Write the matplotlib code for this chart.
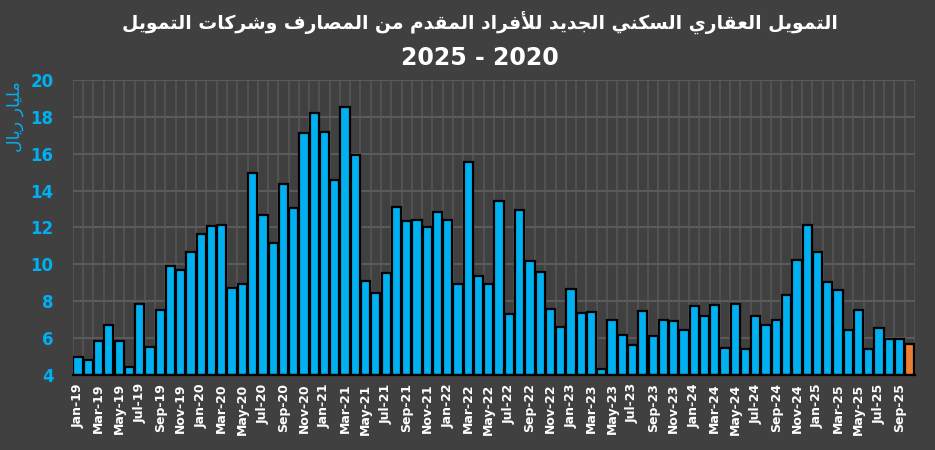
import matplotlib
matplotlib.use("Agg")
import matplotlib.pyplot as plt
import numpy as np

# monthly values, Jan-19 .. Oct-25 (billion riyals)
months = ["Jan", "Feb", "Mar", "Apr", "May", "Jun",
          "Jul", "Aug", "Sep", "Oct", "Nov", "Dec"]
labels = [f"{m}-{y}" for y in range(19, 26) for m in months][:82]

values = [
    5.0, 4.8, 5.85, 6.7, 5.85, 4.45, 7.85, 5.5, 7.5, 9.9, 9.7, 10.65,       # 2019
    11.65, 12.1, 12.15, 8.7, 8.95, 14.95, 12.7, 11.15, 14.35, 13.05, 17.15, 18.2,  # 2020
    17.2, 14.55, 18.55, 15.95, 9.1, 8.45, 9.55, 13.1, 12.35, 12.4, 12.05, 12.85,   # 2021
    12.4, 8.95, 15.55, 9.35, 8.95, 13.45, 7.3, 12.95, 10.2, 9.6, 7.6, 6.6,         # 2022
    8.65, 7.35, 7.4, 4.3, 7.0, 6.15, 5.6, 7.45, 6.1, 7.0, 6.95, 6.45,              # 2023
    7.75, 7.2, 7.8, 5.45, 7.85, 5.4, 7.2, 6.7, 7.0, 8.35, 10.25, 12.15,            # 2024
    10.65, 9.05, 8.6, 6.45, 7.55, 5.4, 6.55, 5.95, 5.95, 5.7,                      # 2025
]

title_ar = "التمويل العقاري السكني الجديد للأفراد المقدم من المصارف وشركات التمويل"
years_txt = "2025 - 2020"
ylabel_ar = "مليار ريال"

# minimal arabic shaping (iso, final, initial, medial)
FORMS = {
    "ا": ("\uFE8D", "\uFE8E", None, None),
    "أ": ("\uFE83", "\uFE84", None, None),
    "ت": ("\uFE95", "\uFE96", "\uFE97", "\uFE98"),
    "ج": ("\uFE9D", "\uFE9E", "\uFE9F", "\uFEA0"),
    "د": ("\uFEA9", "\uFEAA", None, None),
    "ر": ("\uFEAD", "\uFEAE", None, None),
    "س": ("\uFEB1", "\uFEB2", "\uFEB3", "\uFEB4"),
    "ش": ("\uFEB5", "\uFEB6", "\uFEB7", "\uFEB8"),
    "ص": ("\uFEB9", "\uFEBA", "\uFEBB", "\uFEBC"),
    "ع": ("\uFEC9", "\uFECA", "\uFECB", "\uFECC"),
    "ف": ("\uFED1", "\uFED2", "\uFED3", "\uFED4"),
    "ق": ("\uFED5", "\uFED6", "\uFED7", "\uFED8"),
    "ك": ("\uFED9", "\uFEDA", "\uFEDB", "\uFEDC"),
    "ل": ("\uFEDD", "\uFEDE", "\uFEDF", "\uFEE0"),
    "م": ("\uFEE1", "\uFEE2", "\uFEE3", "\uFEE4"),
    "ن": ("\uFEE5", "\uFEE6", "\uFEE7", "\uFEE8"),
    "و": ("\uFEED", "\uFEEE", None, None),
    "ي": ("\uFEF1", "\uFEF2", "\uFEF3", "\uFEF4"),
}
LAM_ALEF = {"ا": ("\uFEFB", "\uFEFC"), "أ": ("\uFEF7", "\uFEF8")}


def shape(text):
    out = []
    n = len(text)
    i = 0
    while i < n:
        c = text[i]
        if c not in FORMS:
            out.append(c)
            i += 1
            continue
        prev = i > 0 and text[i - 1] in FORMS and FORMS[text[i - 1]][2] is not None
        if c == "ل" and i + 1 < n and text[i + 1] in LAM_ALEF:
            out.append(LAM_ALEF[text[i + 1]][1 if prev else 0])
            i += 2
            continue
        f = FORMS[c]
        nxt = f[2] is not None and i + 1 < n and text[i + 1] in FORMS
        if prev and nxt:
            out.append(f[3])
        elif prev:
            out.append(f[1])
        elif nxt:
            out.append(f[2])
        else:
            out.append(f[0])
        i += 1
    return "".join(out)[::-1]


bg = "#404040"
blue = "#00B0F0"
orange = "#ED7D31"

fig = plt.figure(figsize=(9.35, 4.5), dpi=100, facecolor=bg)
ax = fig.add_axes([0.078, 0.1667, 0.9006, 0.6555], facecolor=bg)

x = np.arange(len(values))
colors = [blue] * (len(values) - 1) + [orange]
ax.bar(x, np.array(values) - 4, bottom=4, width=0.9, color=colors,
       edgecolor="black", linewidth=1.6, zorder=3)

ax.set_xlim(-0.5, len(values) - 0.5)
ax.set_ylim(4, 20)
ax.set_yticks(np.arange(4, 21, 2))
ax.set_xticks(x[::2])
ax.set_xticklabels(labels[::2], rotation=90, color="white",
                   fontsize=9, fontweight="bold")
ax.set_xticks(np.arange(-0.5, len(values), 1), minor=True)
ax.tick_params(axis="y", colors=blue, labelsize=12, length=0, pad=14)
ax.tick_params(axis="x", which="both", length=0, pad=6)
for t in ax.get_yticklabels():
    t.set_fontweight("bold")

ax.grid(axis="y", color="#5a5a5a", linewidth=1.5, zorder=0)
ax.grid(axis="x", which="minor", color="#555555", linewidth=1.2, zorder=0)
ax.grid(axis="x", which="major", visible=False)

for s in ["left", "right", "top"]:
    ax.spines[s].set_visible(False)
ax.spines["bottom"].set_color("black")
ax.spines["bottom"].set_linewidth(1.6)
ax.spines["bottom"].set_zorder(4)

ax.set_ylabel(shape(ylabel_ar), color=blue, fontsize=12.5, labelpad=2)
ax.yaxis.set_label_coords(-0.058, 0.875)

fig.text(0.513, 0.948, shape(title_ar), color="white", fontsize=13.5,
         fontweight="bold", ha="center", va="center")
fig.text(0.513, 0.871, years_txt, color="white", fontsize=17,
         fontweight="bold", ha="center", va="center")

fig.savefig("out.png", dpi=100, facecolor=bg)
